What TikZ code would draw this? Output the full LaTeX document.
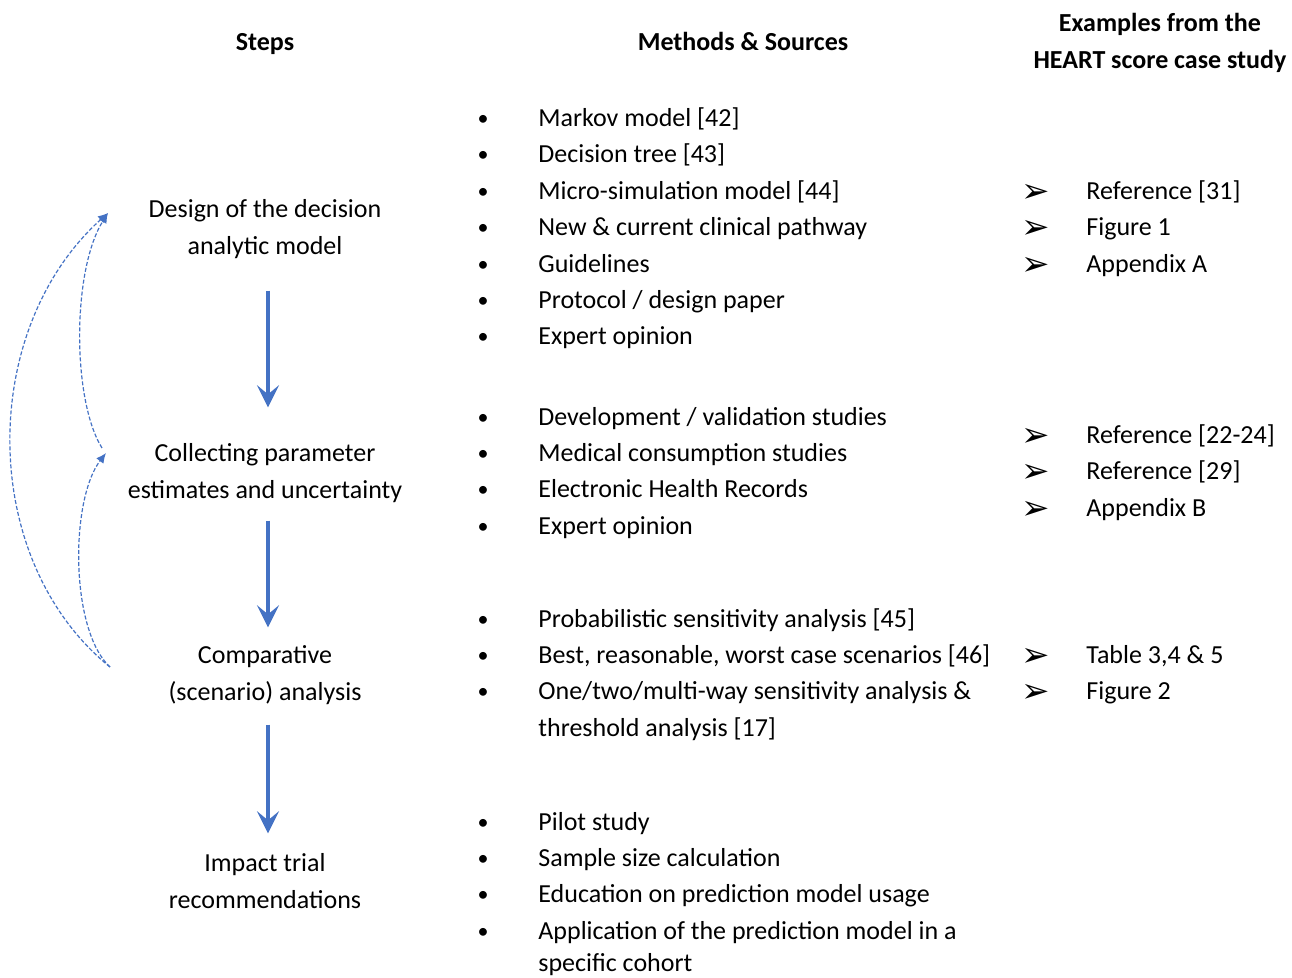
\documentclass[tikz,border=0pt]{standalone}
\usepackage{fontspec}
\setmainfont{Carlito}
\newfontfamily\symfont{DejaVu Sans}
\usetikzlibrary{arrows.meta}
\definecolor{arrowblue}{RGB}{68,114,196}

\begin{document}
\begin{tikzpicture}[x=0.5pt,y=-0.5pt,
    font=\fontsize{13}{18.2}\selectfont,
    every node/.style={inner sep=0pt},
    head/.style={font=\fontsize{13}{18.2}\selectfont\bfseries,align=center},
    stepbox/.style={align=center},
    item/.style={anchor=base west},
    flow/.style={draw=arrowblue,line width=2pt,-{Stealth[length=11pt,width=11pt,inset=4.5pt]}},
    back/.style={draw=arrowblue,line width=0.6pt,dash pattern=on 2pt off 1pt,-{Latex[length=5pt,width=4.5pt]}}]
    \useasboundingbox (0,0) rectangle (1292,978);

    \node[head, anchor=base] at (265,51) (hsteps) {Steps};
    \node[head, anchor=base] at (743,51) (hmethods) {Methods \& Sources};
    \node[head] at (1160,43) (hexamples) {Examples from the\\HEART score case study};

    \node[stepbox] at (265,229) (design) {Design of the decision\\analytic model};
    \node[stepbox] at (265,473) (collect) {Collecting parameter\\estimates and uncertainty};
    \node[stepbox] at (265,675) (compare) {Comparative\\(scenario) analysis};
    \node[stepbox] at (265,881) (impact) {Impact trial\\recommendations};

    \draw[flow, shorten <=16pt, shorten >=18pt] ([xshift=1.5pt]design.south) -- ([xshift=1.5pt]collect.north);
    \draw[flow, shorten <=9pt, shorten >=9pt] ([xshift=1.5pt]collect.south) -- ([xshift=1.5pt]compare.north);
    \draw[flow, shorten <=10pt, shorten >=10pt] ([xshift=1.5pt]compare.south) -- ([xshift=1.5pt]impact.north);

    \coordinate (loopS) at (110,667);
    \coordinate (loopM) at (106,453);
    \coordinate (loopB) at (102,448);
    \coordinate (loopT) at (108,213);
    \draw[back] (loopS) .. controls (70,630) and (70,500) .. (loopM);
    \draw[back] (loopB) .. controls (72,400) and (72,270) .. (loopT);
    \draw[back] (loopS) .. controls (-22,560) and (-22,330) .. (loopT);

    \foreach \y/\t in {117/{Markov model [42]}, 153/{Decision tree [43]},
        190/{Micro-simulation model [44]}, 226/{New \& current clinical pathway},
        263/{Guidelines}, 299/{Protocol / design paper}, 335/{Expert opinion},
        416/{Development / validation studies}, 452/{Medical consumption studies},
        488/{Electronic Health Records}, 525/{Expert opinion},
        618/{Probabilistic sensitivity analysis [45]},
        654/{Best, reasonable, worst case scenarios [46]},
        690/{One/two/multi-way sensitivity analysis \&},
        820/{Pilot study}, 856/{Sample size calculation},
        892/{Education on prediction model usage},
        929/{Application of the prediction model in a}}
    {
        \node[anchor=base] at (483,\y+9) (b\y) {\fontsize{11}{12}\selectfont •};
        \node[item] at (538,\y+10) (m\y) {\t};
    }
    \node[item] at (538,737) (m727) {threshold analysis [17]};
    \node[item] at (538,971) (m965) {specific cohort};

    \foreach \y/\t in {190/{Reference [31]}, 226/{Figure 1}, 263/{Appendix A},
        434/{Reference [22-24]}, 470/{Reference [29]}, 507/{Appendix B},
        654/{Table 3,4 \& 5}, 690/{Figure 2}}
    {
        \node[anchor=base] at (1036,\y+13) (a\y) {\fontsize{17}{18}\symfont ➢};
        \node[item] at (1086,\y+10) (e\y) {\t};
    }
\end{tikzpicture}
\end{document}
